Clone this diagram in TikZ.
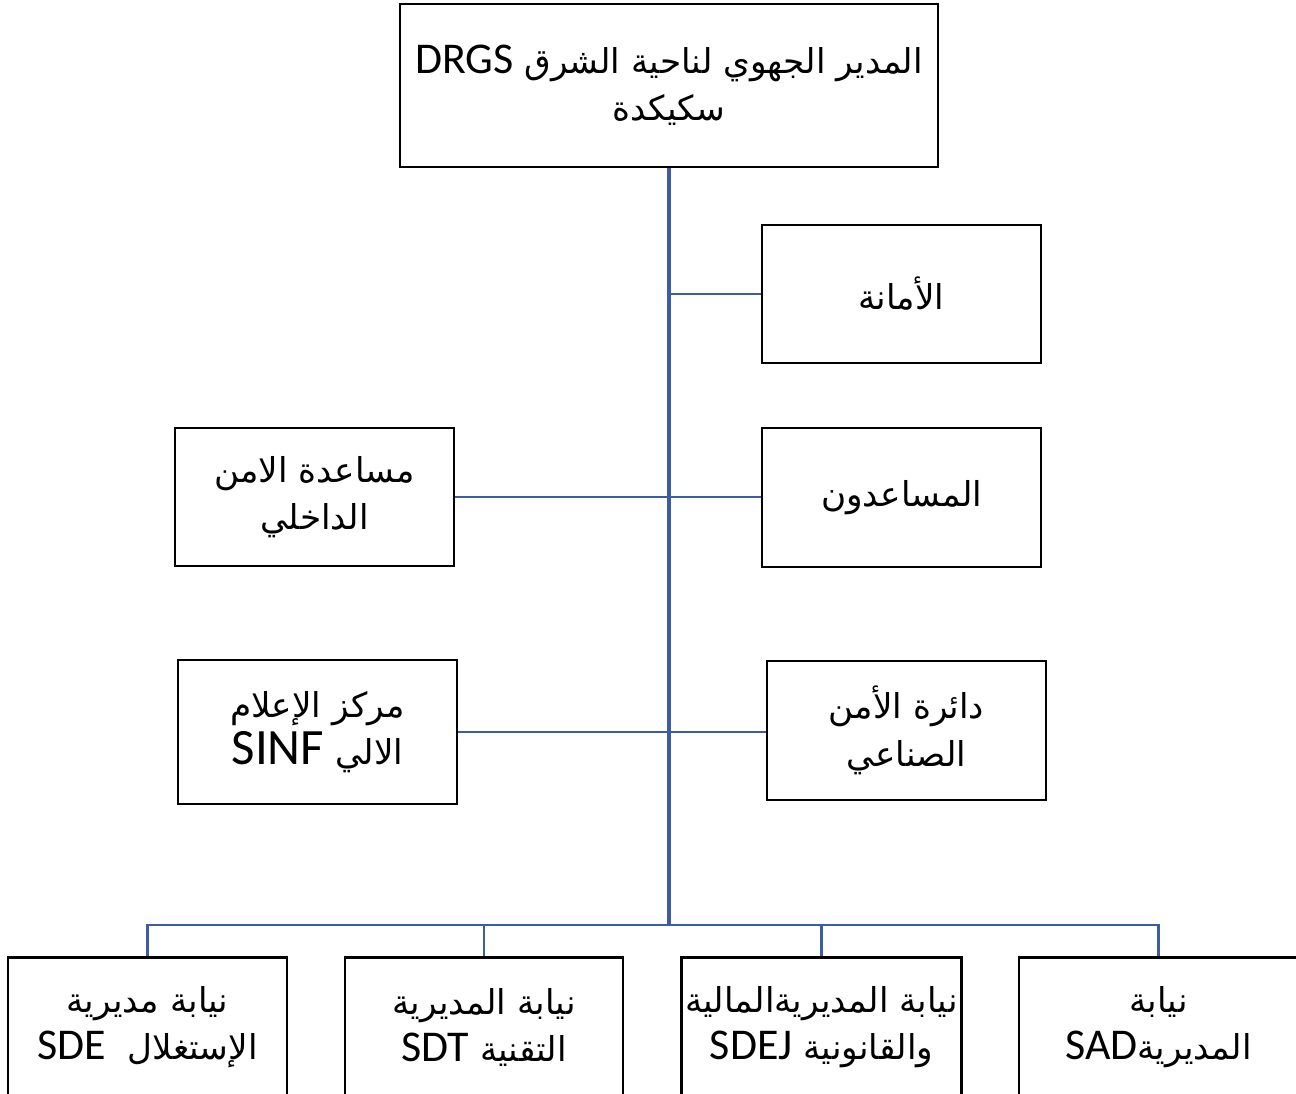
\documentclass[tikz,border=0pt]{standalone}
\usepackage{fontspec}
\TeXXeTstate=1
\newfontfamily\arabicfont[Script=Arabic]{DejaVu Sans}
\newfontfamily\latinfont{Carlito}
\newcommand{\lat}[1]{{\latinfont\fontsize{25}{27}\selectfont\beginL #1\endL}}
\newcommand{\latbig}[1]{{\latinfont\fontsize{29}{27}\selectfont\beginL #1\endL}}
\newcommand{\rl}[1]{\beginR #1\endR}
\definecolor{linkblue}{RGB}{59,93,168}
\tikzset{
  orgbox/.style={draw=black, line width=1.5pt, rectangle, align=center, inner sep=2pt,
    font=\arabicfont\fontsize{19.5}{27}\selectfont},
  link/.style={draw=linkblue, line width=1.2pt},
  trunk/.style={draw=linkblue, line width=1.9pt}
}
\begin{document}
\begin{tikzpicture}[x=0.02cm, y=-0.02cm]
\useasboundingbox (0,0) rectangle (1296,1093);
\node[orgbox, minimum width=10.76cm, minimum height=3.26cm] (top) at (669,85.5)
  {\rl{المدير الجهوي لناحية الشرق \lat{DRGS}}\\ \rl{سكيكدة}};
\node[orgbox, minimum width=5.58cm, minimum height=2.76cm] (amana) at (901.5,294) {\rl{الأمانة}};
\node[orgbox, minimum width=5.58cm, minimum height=2.78cm] (musa) at (901.5,497.5) {\rl{المساعدون}};
\node[orgbox, minimum width=5.58cm, minimum height=2.76cm] (masa) at (314.5,497) {\rl{مساعدة الامن}\\ \rl{الداخلي}};
\node[orgbox, minimum width=5.58cm, minimum height=2.88cm] (markaz) at (317.5,732) {\rl{مركز الإعلام}\\ \rl{الالي \latbig{SINF}}};
\node[orgbox, minimum width=5.58cm, minimum height=2.78cm] (daira) at (906.5,730.5) {\rl{دائرة الأمن}\\ \rl{الصناعي}};
\node[orgbox, minimum width=5.58cm, minimum height=2.8cm, anchor=north] (sde) at (147.5,956) {\rl{نيابة مديرية}\\ \rl{الإستغلال \ \lat{SDE}}};
\node[orgbox, minimum width=5.56cm, minimum height=2.8cm, anchor=north] (sdt) at (484,956) {\rl{نيابة المديرية}\\ \rl{التقنية \lat{SDT}}};
\node[orgbox, minimum width=5.58cm, minimum height=2.8cm, anchor=north] (sdej) at (821.5,956) {\rl{نيابة المديريةالمالية}\\ \rl{والقانونية \lat{SDEJ}}};
\node[orgbox, minimum width=5.58cm, minimum height=2.8cm, anchor=north] (sad) at (1158.5,956) {\rl{نيابة}\\ \rl{المديرية\lat{SAD}}};
\coordinate (bus) at (669,925);
\draw[trunk] (top.south) -- (bus);
\draw[link] (amana.west) -- (amana.west -| top.south);
\draw[link] (masa.east) -- (masa.east -| musa.west);
\draw[link] (markaz.east) -- (markaz.east -| daira.west);
\draw[link] (sde.north) |- (bus) -| (sad.north);
\draw[link] (sdt.north) -- (sdt.north |- bus);
\draw[link] (sdej.north) -- (sdej.north |- bus);
\end{tikzpicture}
\end{document}
